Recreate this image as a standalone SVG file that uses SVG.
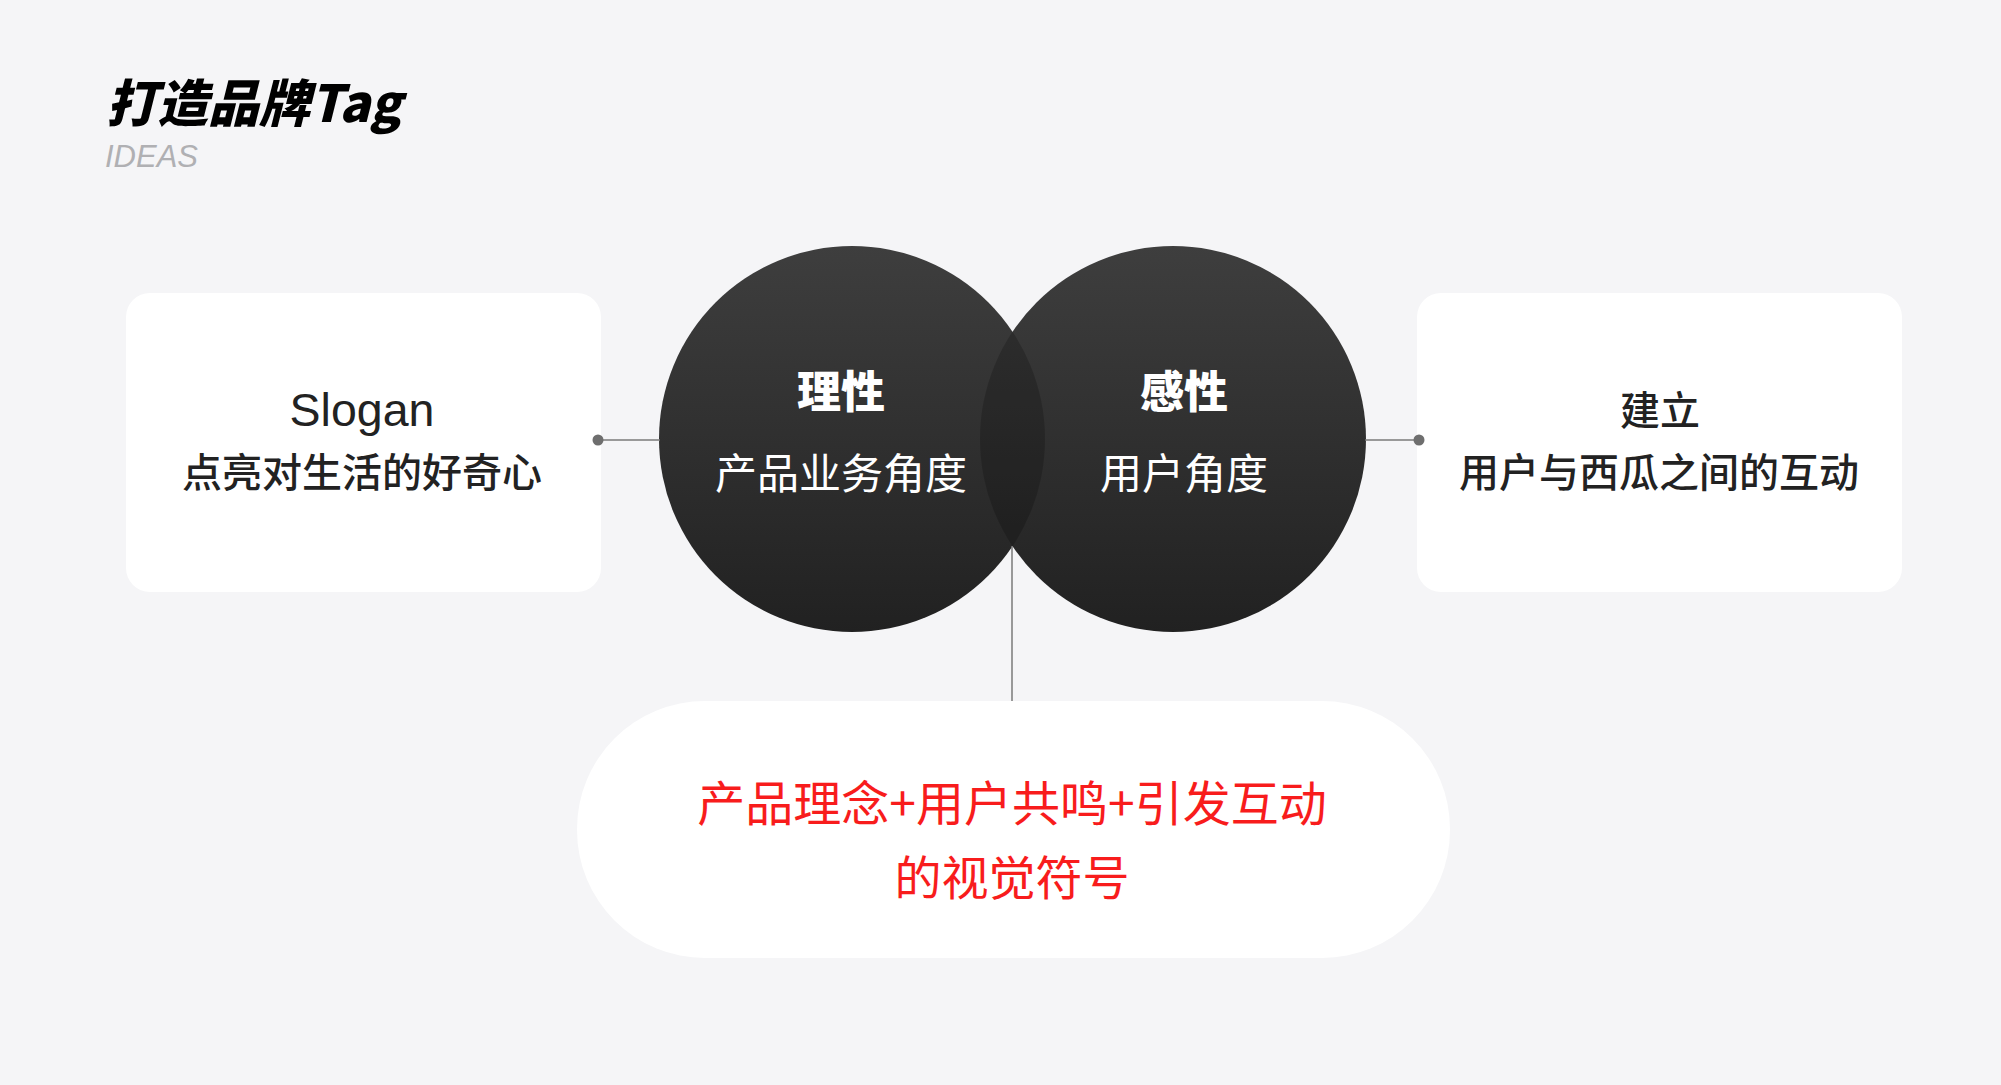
<svg xmlns="http://www.w3.org/2000/svg" width="2001" height="1085" viewBox="0 0 2001 1085">
<defs>
<style>
.cjk{font-family:"Noto Sans CJK SC","Noto Sans",sans-serif}
.lat{font-family:"Liberation Sans","Noto Sans CJK SC",sans-serif}
.card{fill:#ffffff}
.dark{fill:#222222}
.white{fill:#ffffff}
.red{fill:#f81c1c}
.conn{stroke:#7a7a7a;stroke-width:1.5;fill:none}
.dot{fill:#6e6e6e}
</style>
<linearGradient id="cg" x1="0" y1="0" x2="0" y2="1">
<stop offset="0" stop-color="#3e3e3e"/>
<stop offset="1" stop-color="#212121"/>
</linearGradient>
<clipPath id="clipR"><circle cx="1173" cy="439" r="193"/></clipPath>
</defs>
<rect width="2001" height="1085" fill="#f5f5f7"/>

<g id="title">
<text class="cjk" x="106" y="122" font-size="51" font-weight="900" font-style="italic" fill="#000">打造品牌Tag</text>
<text class="lat" x="105" y="167" font-size="31" font-style="italic" font-weight="300" fill="#b0b0b3">IDEAS</text>
</g>

<g id="node-slogan">
<rect class="card" x="126" y="293" width="475" height="299" rx="24"/>
<text class="lat dark" x="362" y="426" font-size="46.5" text-anchor="middle">Slogan</text>
<text class="cjk dark" x="362" y="487" font-size="40" font-weight="500" text-anchor="middle">点亮对生活的好奇心</text>
</g>

<g id="node-rational">
<circle cx="852" cy="439" r="193" fill="url(#cg)"/>
</g>
<g id="node-emotional">
<circle cx="1173" cy="439" r="193" fill="url(#cg)"/>
<circle cx="852" cy="439" r="193" fill="#000" fill-opacity="0.2" clip-path="url(#clipR)"/>
</g>
<g id="circle-labels">
<text class="cjk white" x="841" y="408" font-size="44" font-weight="900" text-anchor="middle">理性</text>
<text class="cjk white" x="841" y="489" font-size="42" font-weight="400" text-anchor="middle">产品业务角度</text>
<text class="cjk white" x="1184" y="408" font-size="44" font-weight="900" text-anchor="middle">感性</text>
<text class="cjk white" x="1184" y="489" font-size="42" font-weight="400" text-anchor="middle">用户角度</text>
</g>

<g id="node-interaction">
<rect class="card" x="1417" y="293" width="485" height="299" rx="24"/>
<text class="cjk dark" x="1660" y="425" font-size="40" font-weight="500" text-anchor="middle">建立</text>
<text class="cjk dark" x="1659" y="487" font-size="40" font-weight="500" text-anchor="middle">用户与西瓜之间的互动</text>
</g>

<g id="node-symbol">
<rect class="card" x="577" y="701" width="873" height="257" rx="128"/>
<text class="cjk red" x="1012" y="821" font-size="48" text-anchor="middle">产品理念+用户共鸣+引发互动</text>
<text class="cjk red" x="1012" y="895" font-size="47" text-anchor="middle">的视觉符号</text>
</g>

<g id="connectors">
<line class="conn" x1="598" y1="440" x2="660" y2="440"/>
<line class="conn" x1="1365" y1="440" x2="1419" y2="440"/>
<line class="conn" x1="1012" y1="546" x2="1012" y2="701"/>
<circle class="dot" cx="598" cy="440" r="5.5"/>
<circle class="dot" cx="1419" cy="440" r="5.5"/>
</g>
</svg>
